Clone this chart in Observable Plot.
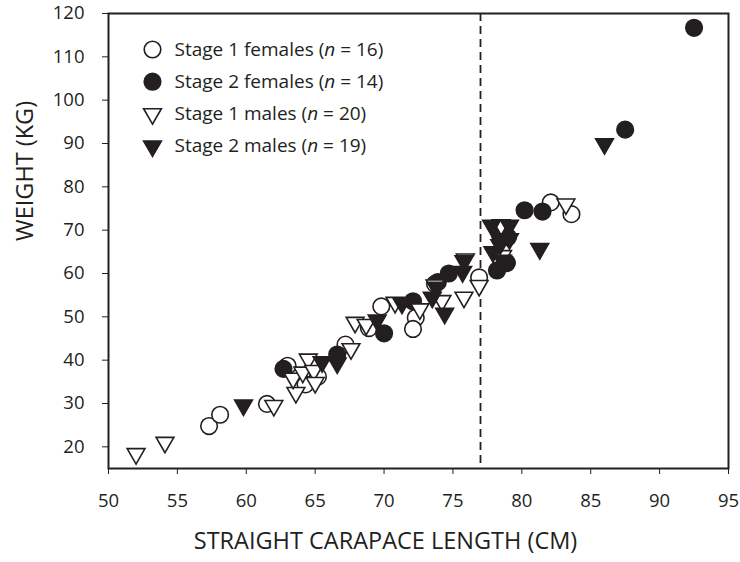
<!DOCTYPE html>
<html>
<head>
<meta charset="utf-8">
<script src="https://cdn.jsdelivr.net/npm/d3@7"></script>
<script src="https://cdn.jsdelivr.net/npm/@observablehq/plot@0.6"></script>
<style>
  html, body { margin: 0; padding: 0; background: #fff; }
  #chart svg { display: block; }
</style>
</head>
<body>
<div id="chart"></div>
<script>
// ---- data ----
const xTicks = [50, 55, 60, 65, 70, 75, 80, 85, 90, 95];
const yTicks = [20, 30, 40, 50, 60, 70, 80, 90, 100, 110, 120];
const threshold = 77;

const seriesNames = [
  "Stage 1 females",
  "Stage 2 females",
  "Stage 1 males",
  "Stage 2 males"
];
const seriesN = [16, 14, 20, 19];

// Stage 1 females (open circles)
const s1fX = [57.3, 58.1, 61.5, 63.0, 64.3, 67.2, 68.9, 69.8, 72.3, 72.1, 73.7, 76.9, 78.9, 82.1, 83.6, 65.2];
const s1fY = [24.8, 27.4, 29.9, 38.7, 34.4, 43.6, 47.4, 52.4, 49.8, 47.2, 57.6, 59.1, 62.4, 76.4, 73.7, 36.2];
// Stage 2 females (filled circles)
const s2fX = [62.7, 66.6, 70.0, 72.1, 73.9, 74.7, 78.2, 78.4, 78.9, 79.0, 80.2, 81.5, 87.5, 92.5];
const s2fY = [38.0, 41.3, 46.2, 53.6, 58.0, 60.0, 60.7, 69.0, 62.5, 68.4, 74.6, 74.3, 93.2, 116.7];
// Stage 1 males (open down-triangles)
const s1mX = [52.0, 54.1, 62.0, 63.6, 63.4, 64.1, 64.5, 64.9, 65.0, 67.6, 67.9, 68.7, 70.8, 72.6, 74.2, 73.7, 75.8, 75.9, 76.9, 78.5, 78.6, 83.2];
const s1mY = [18.4, 21.0, 29.5, 32.5, 35.8, 37.2, 40.2, 37.6, 34.8, 42.6, 48.7, 48.2, 53.3, 51.8, 53.7, 57.3, 54.5, 63.3, 57.2, 71.2, 64.1, 76.0];
// Stage 2 males (filled down-triangles)
const s2mX = [59.8, 65.5, 66.6, 69.5, 71.3, 73.5, 74.4, 73.8, 75.7, 75.8, 77.8, 79.1, 79.1, 77.9, 78.6, 78.4, 81.3, 86.0];
const s2mY = [29.6, 39.6, 39.3, 49.2, 53.1, 54.5, 50.8, 56.8, 60.4, 62.9, 71.1, 71.1, 68.0, 65.0, 63.0, 66.6, 65.7, 89.9];

// ---- build tables ----
const toRows = (xs, ys, g) => xs.map((x, i) => ({x, y: ys[i], g}));
const rows = [
  ...toRows(s1fX, s1fY, 0),
  ...toRows(s2fX, s2fY, 1),
  ...toRows(s1mX, s1mY, 2),
  ...toRows(s2mX, s2mY, 3)
];

const ink = "#231f20";
const font = "'Open Sans', 'Noto Sans', sans-serif";
const styles = [
  {symbol: "circle", fill: "white", r: 8.3, rotate: 0},
  {symbol: "circle", fill: ink, r: 8.3, rotate: 0},
  {symbol: "triangle", fill: "white", r: 6.6, rotate: 180},
  {symbol: "triangle", fill: ink, r: 6.6, rotate: 180}
];

const seriesMarks = styles.map((st, g) => Plot.dot(rows.filter(d => d.g === g), {
  x: "x", y: "y",
  symbol: st.symbol, r: st.r, rotate: st.rotate,
  fill: st.fill, stroke: ink, strokeWidth: 1.6
}));

const legendMarks = seriesNames.flatMap((name, i) => {
  const st = styles[i];
  return [
    Plot.dot([name], {frameAnchor: "top-left", dx: 44, dy: 36 + i * 32.2,
      symbol: st.symbol, r: st.r, rotate: st.rotate, fill: st.fill, stroke: ink, strokeWidth: 1.6}),
    Plot.text([name], {frameAnchor: "top-left", dx: 66, dy: 36 + i * 32.2,
      text: d => d + " (", textAnchor: "start", lineAnchor: "middle", fontSize: 19, fill: ink})
  ];
});

const chart = Plot.plot({
  width: 740,
  height: 562,
  marginLeft: 108,
  marginRight: 12,
  marginTop: 13,
  marginBottom: 94,
  style: {fontFamily: font, fontSize: "18.5px", color: ink, background: "white"},
  x: {domain: [50, 95], ticks: xTicks, tickSize: 6, tickPadding: 19, label: null},
  y: {domain: [15, 120], ticks: yTicks, tickSize: 6, tickPadding: 18, label: null},
  marks: [
    Plot.frame({stroke: ink, strokeWidth: 2}),
    Plot.ruleX([threshold], {stroke: ink, strokeWidth: 1.8, strokeDasharray: "8,5"}),
    ...seriesMarks,
    ...legendMarks,
    Plot.text(["WEIGHT (KG)"], {frameAnchor: "left", dx: -83, rotate: -90, fontSize: 23.5, fill: ink}),
    Plot.text(["STRAIGHT CARAPACE LENGTH (CM)"], {frameAnchor: "bottom", dx: -33, dy: 80, fontSize: 23.5, fill: ink})
  ]
});

// Legend text with italic n
d3.select(chart).selectAll("text").each(function() {
  const t = this.textContent;
  const idx = seriesNames.findIndex(n => t === n + " (");
  if (idx >= 0) {
    const el = d3.select(this);
    el.text(null);
    el.append("tspan").text(seriesNames[idx] + " (");
    el.append("tspan").attr("font-style", "italic").text("n");
    el.append("tspan").text(" = " + seriesN[idx] + ")");
  }
});

document.getElementById("chart").append(chart);
</script>
</body>
</html>
